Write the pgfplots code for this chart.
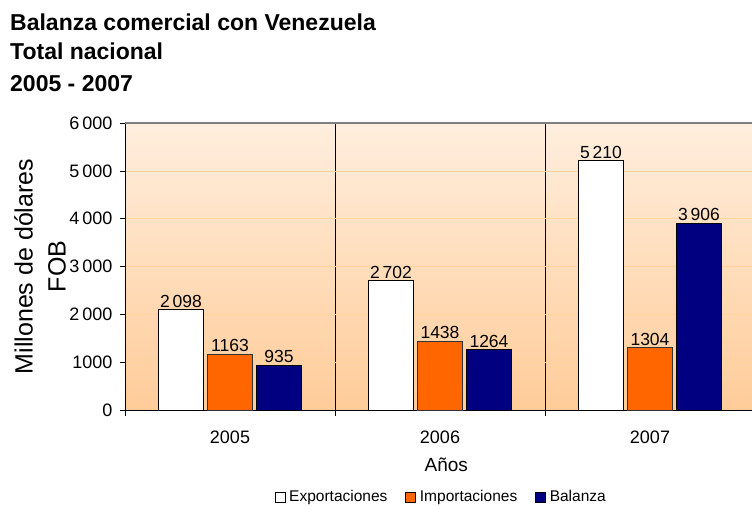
\documentclass[border=0pt]{standalone}
\usepackage{pgfplots}
\pgfplotsset{compat=1.18}
\usepackage{fontspec}
\setmainfont{Liberation Sans}
\definecolor{bgtop}{RGB}{255,238,222}
\definecolor{bgbot}{RGB}{255,204,153}
\definecolor{grd}{RGB}{255,212,158}
\definecolor{orangebar}{RGB}{255,102,0}
\definecolor{navybar}{RGB}{0,0,128}
\begin{document}
\begin{tikzpicture}[x=1pt,y=1pt]
\path[use as bounding box] (-125,-104) rectangle (627,410);
\node[anchor=base west,inner sep=0pt,font=\fontsize{23}{26}\selectfont\bfseries] at (-115,379) {Balanza comercial con Venezuela};
\node[anchor=base west,inner sep=0pt,font=\fontsize{23}{26}\selectfont\bfseries] at (-115,350) {Total nacional};
\node[anchor=base west,inner sep=0pt,font=\fontsize{23}{26}\selectfont\bfseries] at (-115,318) {2005 - 2007};
\begin{axis}[
  at={(0,0)}, anchor=south west,
  scale only axis, width=630pt, height=287pt,
  xmin=0.5, xmax=3.5, ymin=0, ymax=6000,
  axis x line*=bottom, axis y line*=left,
  axis line style={black, line width=0.8pt},
  axis background/.style={top color=bgtop, bottom color=bgbot},
  ybar=4pt, bar width=45pt,
  xtick={1,2,3}, xticklabels={2005,2006,2007},
  minor xtick={0.5,1.5,2.5},
  xminorgrids, minor grid style={black, line width=0.6pt},
  ytick={0,1000,2000,3000,4000,5000,6000},
  yticklabels={0,1000,2\,000,3\,000,4\,000,5\,000,6\,000},
  ymajorgrids, major grid style={grd, line width=0.6pt},
  extra y ticks={6000}, extra y tick labels={},
  extra y tick style={ymajorgrids=true, major grid style={gray, line width=1.2pt}, major tick length=0pt},
  tick align=outside,
  major tick length=5pt, minor tick length=6pt,
  major x tick style={draw=none},
  tick style={black, line width=0.6pt},
  /pgf/number format/assume math mode=true,
  xticklabel style={font=\fontsize{18}{20}\selectfont, yshift=-12pt},
  yticklabel style={font=\fontsize{18}{20}\selectfont, xshift=-4pt},
  xlabel={Años},
  xlabel style={font=\fontsize{19}{22}\selectfont, at={(axis description cs:0.51,-0.19)}, anchor=center},
  ylabel={Millones de dólares\\FOB},
  ylabel style={font=\fontsize{25}{33}\selectfont, align=center, at={(axis description cs:0,0.5)}, anchor=center, yshift=85pt},
  point meta=explicit symbolic,
  nodes near coords,
  every node near coord/.append style={font=\fontsize{17.5}{20}\selectfont, anchor=south, inner sep=2pt, black},
  legend columns=3,
  legend style={at={(axis description cs:0.502,-0.303)}, anchor=center, draw=none, fill=none,
    font=\fontsize{15.5}{18}\selectfont,
    /tikz/every odd column/.append style={column sep=2pt},
    /tikz/every even column/.append style={column sep=16pt}},
  legend image code/.code={\draw[#1, draw=black, line width=0.5pt] (0pt,-5pt) rectangle (10pt,5pt);},
]
\addplot[fill=white, draw=black, line width=0.6pt] coordinates {(1,2098) [2\,098] (2,2702) [2\,702] (3,5210) [5\,210]};
\addplot[fill=orangebar, draw=black!80, line width=0.6pt] coordinates {(1,1163) [1163] (2,1438) [1438] (3,1304) [1304]};
\addplot[fill=navybar, draw=black, line width=0.6pt] coordinates {(1,935) [935] (2,1264) [1264] (3,3906) [3\,906]};
\legend{Exportaciones, Importaciones, Balanza}
\end{axis}
\end{tikzpicture}
\end{document}
